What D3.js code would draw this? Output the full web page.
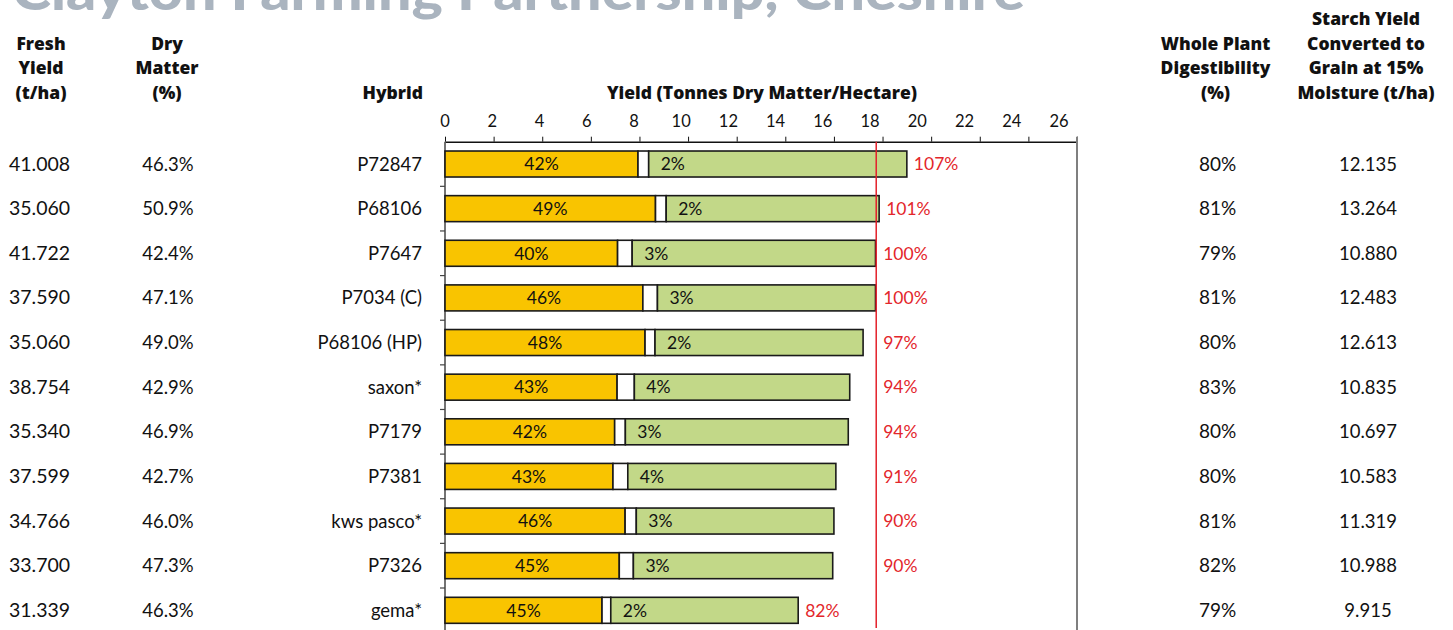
<!DOCTYPE html>
<html><head><meta charset="utf-8">
<script src="https://cdn.jsdelivr.net/npm/d3@7"></script>
<style>
html,body{margin:0;padding:0;background:#fff;}
svg{display:block;}
text{font-family:Lato,"Noto Sans",sans-serif;}
</style></head>
<body><svg id="chart" width="1453" height="630"></svg>
<script>
// ---------- data ----------
const hybrids = ["P72847","P68106","P7647","P7034 (C)","P68106 (HP)","saxon*","P7179","P7381","kws pasco*","P7326","gema*"];
const freshYield = ["41.008","35.060","41.722","37.590","35.060","38.754","35.340","37.599","34.766","33.700","31.339"];
const dryMatter = ["46.3%","50.9%","42.4%","47.1%","49.0%","42.9%","46.9%","42.7%","46.0%","47.3%","46.3%"];
const starchYield = [7.94, 8.66, 7.10, 8.14, 8.23, 7.08, 6.98, 6.91, 7.41, 7.17, 6.46];
const sugarYield  = [0.44, 0.44, 0.60, 0.60, 0.41, 0.71, 0.44, 0.61, 0.46, 0.58, 0.36];
const totalYield  = [19.00, 17.86, 17.71, 17.71, 17.20, 16.65, 16.59, 16.08, 16.00, 15.95, 14.53];
const starchPct = ["42%","49%","40%","46%","48%","43%","42%","43%","46%","45%","45%"];
const sugarPct  = ["2%","2%","3%","3%","2%","4%","3%","4%","3%","3%","2%"];
const relYield  = ["107%","101%","100%","100%","97%","94%","94%","91%","90%","90%","82%"];
const relValue  = [107,101,100,100,97,94,94,91,90,90,82];
const controlYield = 17.74;
const digestibility = ["80%","81%","79%","81%","80%","83%","80%","80%","81%","82%","79%"];
const starchGrain = ["12.135","13.264","10.880","12.483","12.613","10.835","10.697","10.583","11.319","10.988","9.915"];
const xTicks = [0,2,4,6,8,10,12,14,16,18,20,22,24,26];
const title = "Clayton Farming Partnership, Cheshire";

// ---------- layout ----------
const svg = d3.select("#chart");
const X0 = 445, X1 = 1077, AXIS_Y = 141.7, BAND = 44.63;
const x = d3.scaleLinear().domain([0, 26]).range([X0, X1]);
const xLabel = d3.scaleLinear().domain([0, 26]).range([X0, 1059]);
const y = d3.scaleBand().domain(d3.range(hybrids.length)).range([AXIS_Y, AXIS_Y + BAND * hybrids.length]).paddingInner(0).paddingOuter(0);
const barH = 26;
const cy = i => y(i) + y.bandwidth() / 2;

// Title (partially cut off at top, as in the reference)
svg.append("text").attr("x", 12).attr("y", 10).attr("fill", "#aab4bf")
  .attr("font-size", 54).attr("font-weight", 900)
  .attr("textLength", 1013).attr("lengthAdjust", "spacingAndGlyphs").text(title);

// Headers
const hdr = (lines, cx, baselines, anchor) => {
  const t = svg.append("text").attr("text-anchor", anchor || "middle")
    .style("font-family", "'Open Sans',Lato,sans-serif")
    .attr("font-size", 17.5).attr("font-weight", 800).attr("fill", "#111");
  lines.forEach((l, k) => t.append("tspan").attr("x", cx).attr("y", baselines[k]).text(l));
};
hdr(["Fresh", "Yield", "(t/ha)"], 41, [49.5, 74, 98.5]);
hdr(["Dry", "Matter", "(%)"], 167, [49.5, 74, 98.5]);
hdr(["Hybrid"], 423, [98.5], "end");
hdr(["Yield (Tonnes Dry Matter/Hectare)"], 762, [98.5]);
hdr(["Whole Plant", "Digestibility", "(%)"], 1215.5, [49.5, 74, 98.5]);
hdr(["Starch Yield", "Converted to", "Grain at 15%", "Moisture (t/ha)"], 1366, [25, 49.5, 74, 98.5]);

// Top axis
const axisG = svg.append("g").attr("transform", `translate(0,${AXIS_Y})`)
  .call(d3.axisTop(x).tickValues(xTicks).tickSize(5).tickSizeOuter(0).tickFormat(""));
axisG.select(".domain").attr("stroke", "#111").attr("stroke-width", 1.5);
axisG.selectAll(".tick line").attr("stroke", "#111").attr("stroke-width", 1);
svg.append("g").selectAll("text").data(xTicks).join("text")
  .attr("x", d => xLabel(d)).attr("y", 126.5).attr("text-anchor", "middle")
  .attr("font-size", 16.5).attr("fill", "#111").text(d => d);

// Left axis line with band ticks
svg.append("line").attr("x1", X0).attr("x2", X0).attr("y1", AXIS_Y).attr("y2", 630).attr("stroke", "#444").attr("stroke-width", 1.5);
svg.append("g").selectAll("line").data(d3.range(1, hybrids.length)).join("line")
  .attr("x1", X0 - 5).attr("x2", X0).attr("y1", i => y(i)).attr("y2", i => y(i))
  .attr("stroke", "#444").attr("stroke-width", 1.2);
// Right frame line
svg.append("line").attr("x1", X1).attr("x2", X1).attr("y1", AXIS_Y - 5).attr("y2", 630).attr("stroke", "#7f7f7f").attr("stroke-width", 2);

// Bars
const rows = d3.range(hybrids.length);
const segs = [];
rows.forEach(i => {
  segs.push({i, a: 0, b: starchYield[i], fill: "#f9c400"});
  segs.push({i, a: starchYield[i], b: starchYield[i] + sugarYield[i], fill: "#ffffff"});
  segs.push({i, a: starchYield[i] + sugarYield[i], b: totalYield[i], fill: "#c2d888"});
});
svg.append("g").selectAll("rect").data(segs).join("rect")
  .attr("x", d => x(d.a)).attr("width", d => x(d.b) - x(d.a))
  .attr("y", d => cy(d.i) - barH / 2).attr("height", barH)
  .attr("fill", d => d.fill).attr("stroke", "#1a1a1a").attr("stroke-width", 1.6);

// Control line
svg.append("line").attr("x1", x(controlYield)).attr("x2", x(controlYield))
  .attr("y1", AXIS_Y).attr("y2", 628).attr("stroke", "#e3202a").attr("stroke-width", 1.5);

// Bar labels
svg.append("g").selectAll("text").data(rows).join("text")
  .attr("x", i => (x(0) + x(starchYield[i])) / 2).attr("y", i => cy(i) + 6.3)
  .attr("text-anchor", "middle").attr("font-size", 17.5).attr("fill", "#111").text(i => starchPct[i]);
svg.append("g").selectAll("text").data(rows).join("text")
  .attr("x", i => x(starchYield[i] + sugarYield[i]) + 12).attr("y", i => cy(i) + 6.3)
  .attr("font-size", 17.5).attr("fill", "#111").text(i => sugarPct[i]);
svg.append("g").selectAll("text").data(rows).join("text")
  .attr("x", i => (relValue[i] < 85 ? x(totalYield[i]) : Math.max(x(totalYield[i]), x(controlYield))) + 7)
  .attr("y", i => cy(i) + 6.3)
  .attr("font-size", 17.5).attr("fill", "#e3262b").text(i => relYield[i]);

// Table columns
const col = (arr, xx, anchor, fs) => svg.append("g").selectAll("text").data(rows).join("text")
  .attr("x", xx).attr("y", i => cy(i) + 6.5).attr("text-anchor", anchor)
  .attr("font-size", fs).attr("fill", "#111").text(i => arr[i]);
col(freshYield, 9, "start", 19.5);
col(dryMatter, 168, "middle", 18.5);
col(hybrids, 422, "end", 18.5);
col(digestibility, 1199, "start", 19);
col(starchGrain, 1368, "middle", 18.5);
</script></body></html>
